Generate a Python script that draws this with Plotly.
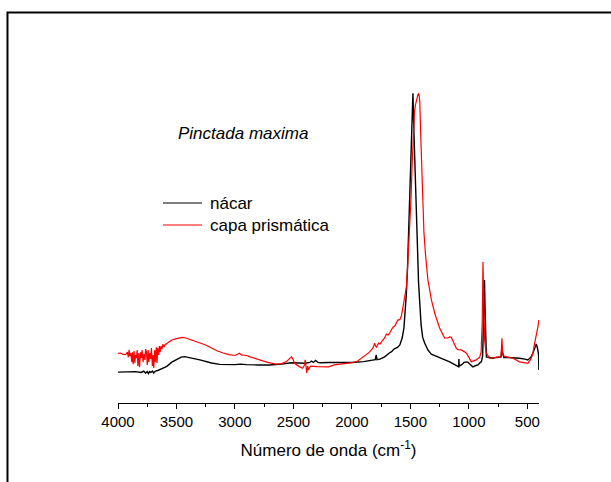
import plotly.graph_objects as go

# Wavenumbers (cm-1) and absorbance (a.u., normalised to main carbonate band)
nacar_wn = [4000, 3950, 3900, 3850, 3800, 3780, 3765, 3750, 3740, 3730, 3720, 3705, 3695, 3680,
            3660, 3640, 3620, 3600, 3580, 3560, 3540, 3500, 3460, 3430, 3400, 3350, 3300, 3250,
            3200, 3130, 3050, 3000, 2950, 2900, 2800, 2700, 2600, 2520, 2450, 2400, 2360, 2345,
            2330, 2310, 2290, 2270, 2200, 2100, 2000, 1900, 1850, 1800, 1792, 1785, 1760, 1720,
            1680, 1660, 1640, 1610, 1590, 1570, 1555, 1545, 1535, 1525, 1515, 1505, 1495, 1487,
            1478, 1470, 1460, 1450, 1440, 1430, 1420, 1408, 1395, 1378, 1350, 1321, 1280, 1250,
            1193, 1164, 1121, 1093, 1087, 1085, 1082, 1064, 1040, 1021, 1005, 993, 979, 965, 940,
            922, 902, 893, 882, 874, 866, 860, 855, 850, 822, 794, 760, 725, 718, 714, 709, 700,
            679, 623, 566, 520, 495, 470, 452, 430, 423, 415, 409, 404, 401]
nacar_abs = [-0.004, -0.003, -0.004, -0.002, -0.005, 0.000, -0.007, -0.002, -0.009, -0.002, -0.005,
             0.000, -0.007, 0.000, 0.002, 0.005, 0.009, 0.013, 0.018, 0.025, 0.032, 0.041, 0.050,
             0.052, 0.050, 0.045, 0.040, 0.034, 0.029, 0.024, 0.023, 0.023, 0.025, 0.023, 0.022,
             0.022, 0.025, 0.030, 0.029, 0.028, 0.031, 0.036, 0.031, 0.038, 0.031, 0.030, 0.031,
             0.031, 0.031, 0.034, 0.038, 0.041, 0.058, 0.041, 0.043, 0.051, 0.065, 0.070, 0.079,
             0.085, 0.094, 0.119, 0.155, 0.202, 0.274, 0.364, 0.490, 0.634, 0.796, 0.922, 1.000,
             0.868, 0.706, 0.562, 0.436, 0.320, 0.248, 0.166, 0.122, 0.101, 0.076, 0.061, 0.054,
             0.049, 0.040, 0.033, 0.023, 0.015, 0.015, 0.043, 0.018, 0.022, 0.031, 0.033, 0.031,
             0.025, 0.020, 0.015, 0.020, 0.022, 0.031, 0.033, 0.054, 0.184, 0.328, 0.202, 0.076,
             0.051, 0.049, 0.046, 0.049, 0.051, 0.076, 0.068, 0.056, 0.049, 0.049, 0.048, 0.046,
             0.043, 0.040, 0.050, 0.064, 0.090, 0.097, 0.086, 0.076, 0.061, 0.004]

prism_wn = [4000, 3980, 3960, 3940, 3930, 3920, 3912, 3905, 3898, 3890, 3882, 3876, 3870, 3862,
            3856, 3850, 3842, 3836, 3830, 3822, 3816, 3808, 3800, 3794, 3786, 3778, 3770, 3764,
            3756, 3750, 3742, 3736, 3728, 3720, 3714, 3706, 3700, 3694, 3686, 3680, 3672, 3666,
            3660, 3652, 3646, 3640, 3632, 3624, 3616, 3608, 3600, 3580, 3560, 3540, 3500, 3450,
            3420, 3380, 3300, 3250, 3200, 3150, 3100, 3050, 3000, 2970, 2960, 2945, 2920, 2900,
            2870, 2800, 2720, 2650, 2600, 2560, 2535, 2517, 2505, 2490, 2450, 2420, 2405, 2400,
            2395, 2385, 2378, 2370, 2360, 2350, 2300, 2200, 2150, 2100, 2000, 1950, 1905, 1850,
            1820, 1805, 1798, 1791, 1770, 1760, 1734, 1720, 1705, 1690, 1677, 1660, 1649, 1634,
            1620, 1606, 1591, 1577, 1560, 1549, 1540, 1534, 1525, 1515, 1506, 1495, 1485, 1475,
            1465, 1457, 1445, 1435, 1428, 1420, 1410, 1400, 1390, 1384, 1370, 1350, 1320, 1292,
            1250, 1207, 1180, 1164, 1150, 1135, 1121, 1107, 1093, 1064, 1040, 1021, 1000, 979,
            965, 936, 922, 907, 895, 885, 879, 872, 865, 856, 850, 822, 794, 760, 725, 717, 712,
            709, 690, 660, 623, 566, 520, 495, 470, 452, 440, 430, 423, 415, 408, 401]
prism_abs = [0.064, 0.065, 0.061, 0.059, 0.061, 0.068, 0.050, 0.076, 0.054, 0.065, 0.032, 0.068,
             0.025, 0.072, 0.029, 0.058, 0.047, 0.076, 0.018, 0.065, 0.014, 0.068, 0.047, 0.076,
             0.032, 0.061, 0.040, 0.079, 0.068, 0.022, 0.076, 0.032, 0.065, 0.043, 0.083, 0.018,
             0.058, 0.011, 0.076, 0.032, 0.086, 0.029, 0.083, 0.058, 0.090, 0.068, 0.090, 0.079,
             0.097, 0.086, 0.094, 0.101, 0.108, 0.112, 0.117, 0.121, 0.119, 0.113, 0.101, 0.094,
             0.083, 0.072, 0.065, 0.059, 0.056, 0.061, 0.064, 0.058, 0.058, 0.056, 0.051, 0.041,
             0.031, 0.025, 0.027, 0.034, 0.043, 0.051, 0.043, 0.028, 0.016, 0.010, 0.022, 0.040,
             0.025, -0.007, 0.018, 0.004, 0.014, 0.018, 0.016, 0.015, 0.022, 0.025, 0.030, 0.036,
             0.051, 0.068, 0.083, 0.100, 0.090, 0.086, 0.101, 0.097, 0.112, 0.119, 0.133, 0.130,
             0.137, 0.148, 0.158, 0.162, 0.173, 0.184, 0.184, 0.198, 0.237, 0.266, 0.284, 0.302,
             0.364, 0.436, 0.508, 0.616, 0.742, 0.868, 0.932, 0.957, 0.986, 0.996, 1.000, 0.975,
             0.831, 0.669, 0.543, 0.500, 0.417, 0.328, 0.256, 0.209, 0.155, 0.119, 0.119, 0.123,
             0.122, 0.108, 0.097, 0.082, 0.077, 0.076, 0.070, 0.064, 0.050, 0.033, 0.036, 0.040,
             0.045, 0.050, 0.068, 0.184, 0.393, 0.256, 0.112, 0.076, 0.065, 0.046, 0.049, 0.050,
             0.051, 0.118, 0.076, 0.058, 0.052, 0.049, 0.046, 0.033, 0.031, 0.028, 0.043, 0.064,
             0.094, 0.112, 0.136, 0.148, 0.162, 0.184]

series_names = ["nácar", "capa prismática"]
series_colors = ["#000000", "#ff0000"]
x_tick_vals = [4000, 3500, 3000, 2500, 2000, 1500, 1000, 500]
x_tick_text = ["4000", "3500", "3000", "2500", "2000", "1500", "1000", "500"]
species_label = "Pinctada maxima"
x_title = "Número de onda (cm<sup>-1</sup>)"

FONT = "Arial, 'Liberation Sans', sans-serif"

fig = go.Figure()
fig.add_trace(go.Scatter(x=nacar_wn, y=nacar_abs, mode="lines", name=series_names[0],
                         line=dict(color=series_colors[0], width=1.4), showlegend=False))
fig.add_trace(go.Scatter(x=prism_wn, y=prism_abs, mode="lines", name=series_names[1],
                         line=dict(color=series_colors[1], width=1.2), showlegend=False))

# Legend drawn manually (sample lines + labels)
leg_y = [0.5128, 0.4564]
for i in range(2):
    fig.add_shape(type="line", xref="paper", yref="paper", x0=0.1069, x1=0.1995,
                  y0=leg_y[i], y1=leg_y[i], line=dict(color=series_colors[i], width=1.2))
    fig.add_annotation(xref="paper", yref="paper", x=0.2138, y=leg_y[i], text=series_names[i],
                       showarrow=False, xanchor="left", yanchor="middle",
                       font=dict(family=FONT, size=17, color="#000"))

fig.add_annotation(xref="paper", yref="paper", x=0.1378, y=0.6923, text="<i>" + species_label + "</i>",
                   showarrow=False, xanchor="left", yanchor="middle",
                   font=dict(family=FONT, size=17, color="#000"))

# Outer frame (extends beyond right and bottom edges)
fig.add_shape(type="rect", xref="paper", yref="paper", x0=-0.2625, x1=1.3, y0=-0.5, y1=1.0013,
              line=dict(color="#000", width=2), layer="above")

fig.update_layout(
    width=611, height=482,
    margin=dict(l=118, r=72, t=13, b=79, pad=0),
    paper_bgcolor="white", plot_bgcolor="white",
    font=dict(family=FONT, color="#000"),
    xaxis=dict(range=[4000, 400], showgrid=False, zeroline=False, showline=True,
               linecolor="#000", linewidth=1, ticks="outside", ticklen=5, tickwidth=1,
               tickcolor="#000", tickvals=x_tick_vals, ticktext=x_tick_text,
               tickfont=dict(family=FONT, size=15, color="#000"),
               minor=dict(dtick=250, tick0=0, ticks="outside", ticklen=3, tickcolor="#000"),
               title=dict(text=x_title, font=dict(family=FONT, size=17, color="#000"), standoff=15)),
    yaxis=dict(range=[-0.115, 1.289], visible=False),
)

fig.write_html("out.html")
